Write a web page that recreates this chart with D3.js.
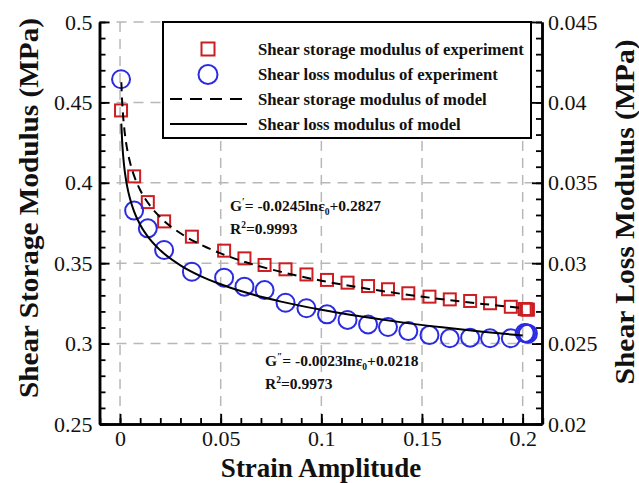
<!DOCTYPE html>
<html>
<head>
<meta charset="utf-8">
<script src="https://cdn.jsdelivr.net/npm/d3@7"></script>
<style>
  body { margin: 0; background: #fff; }
  text { font-family: "Liberation Serif", "Times New Roman", serif; fill: #111; }
</style>
</head>
<body>
<script>
// experiment points (strain amplitude, storage G' in MPa, loss G'' in MPa)
var strain  = [0.0005, 0.007, 0.0138, 0.0219, 0.0357, 0.0517, 0.0618, 0.0718, 0.0822, 0.0926, 0.1028,
               0.113, 0.1232, 0.1331, 0.1432, 0.1537, 0.1638, 0.1739, 0.1838, 0.1941, 0.201, 0.2018, 0.2026];
var storage = [0.445, 0.404, 0.388, 0.376, 0.3665, 0.3578, 0.353, 0.3489, 0.3462, 0.343, 0.3396,
               0.3379, 0.3358, 0.3338, 0.3313, 0.3292, 0.3275, 0.3265, 0.3251, 0.3229, 0.3215, 0.3213, 0.3211];
var loss    = [0.04144, 0.03327, 0.03217, 0.03082, 0.02947, 0.0291, 0.02854, 0.02833, 0.02754, 0.0272, 0.02682,
               0.02647, 0.02619, 0.02603, 0.02578, 0.02553, 0.02533, 0.02537, 0.02533, 0.02533, 0.02566, 0.02564, 0.02562];

// model curves
var modelStrain  = [0.00065, 0.001, 0.0015, 0.002, 0.003, 0.004, 0.005, 0.007, 0.01, 0.015, 0.02,
                    0.03, 0.04, 0.05, 0.06, 0.08, 0.1, 0.12, 0.14, 0.16, 0.18, 0.2];
var modelStorage = [0.4625, 0.4519, 0.442, 0.435, 0.425, 0.418, 0.4125, 0.4043, 0.3955, 0.3856, 0.3785,
                    0.3686, 0.3616, 0.3561, 0.3516, 0.3446, 0.3391, 0.3347, 0.3309, 0.3276, 0.3247, 0.3221];
var modelLoss    = [0.03868, 0.03769, 0.03676, 0.03609, 0.03516, 0.0345, 0.03399, 0.03321, 0.03239, 0.03146, 0.0308,
                    0.02987, 0.0292, 0.02869, 0.02827, 0.02761, 0.0271, 0.02668, 0.02632, 0.02601, 0.02574, 0.0255];

var xTicks = [0, 0.05, 0.1, 0.15, 0.2];
var xLabels = ["0", "0.05", "0.1", "0.15", "0.2"];
var leftTicks = [0.25, 0.3, 0.35, 0.4, 0.45, 0.5];
var leftLabels = ["0.25", "0.3", "0.35", "0.4", "0.45", "0.5"];
var rightTicks = [0.02, 0.025, 0.03, 0.035, 0.04, 0.045];
var rightLabels = ["0.02", "0.025", "0.03", "0.035", "0.04", "0.045"];
var legendLabels = ["Shear storage modulus of experiment", "Shear loss modulus of experiment",
                    "Shear storage modulus of model", "Shear loss modulus of model"];

(function() {
  var red = "#cc1e22", blue = "#2b2be3";
  var x0 = 99.5, x1 = 542, y0 = 22, y1 = 424;

  var x  = d3.scaleLinear().domain([-0.0102, 0.2096]).range([x0, x1]);
  var yL = d3.scaleLinear().domain([0.25, 0.5]).range([y1, y0]);
  var yR = d3.scaleLinear().domain([0.02, 0.045]).range([y1, y0]);

  var svg = d3.select("body").append("svg").attr("width", 639).attr("height", 483);

  // dashed grid
  var grid = svg.append("g").attr("stroke", "#b8b8b8").attr("stroke-width", 1.5).attr("stroke-dasharray", "10,7");
  grid.selectAll("line.v").data(xTicks).enter().append("line")
    .attr("x1", function(d) { return x(d); }).attr("x2", function(d) { return x(d); })
    .attr("y1", y0).attr("y2", y1);
  grid.selectAll("line.h").data(leftTicks.slice(1)).enter().append("line")
    .attr("x1", x0).attr("x2", x1)
    .attr("y1", function(d) { return yL(d); }).attr("y2", function(d) { return yL(d); });

  // axes, ticks pointing inward
  function styleAxis(g) {
    g.select(".domain").attr("stroke", "#000").attr("stroke-width", 2.5);
    g.selectAll(".tick line").attr("stroke", "#000").attr("stroke-width", 1.8);
    g.selectAll(".tick text").attr("font-size", 22).attr("font-family", null).attr("fill", "#111");
  }
  var minorX = d3.range(-0.01, 0.2101, 0.01);
  var minorY = d3.range(0.25, 0.5001, 0.01);

  svg.append("g").attr("transform", "translate(0," + y1 + ")")
    .call(d3.axisBottom(x).tickValues(minorX).tickSize(-6).tickSizeOuter(0).tickFormat(""))
    .call(styleAxis);
  svg.append("g").attr("transform", "translate(" + x0 + ",0)")
    .call(d3.axisLeft(yL).tickValues(minorY).tickSize(-6).tickSizeOuter(0).tickFormat(""))
    .call(styleAxis);
  svg.append("g").attr("transform", "translate(" + x1 + ",0)")
    .call(d3.axisRight(yL).tickValues(minorY).tickSize(-6).tickSizeOuter(0).tickFormat(""))
    .call(styleAxis);

  svg.append("g").attr("transform", "translate(0," + y1 + ")")
    .call(d3.axisBottom(x).tickValues(xTicks).tickSize(-10).tickSizeOuter(0).tickPadding(6)
      .tickFormat(function(d, i) { return xLabels[i]; }))
    .call(styleAxis);
  svg.append("g").attr("transform", "translate(" + x0 + ",0)")
    .call(d3.axisLeft(yL).tickValues(leftTicks).tickSize(-10).tickSizeOuter(0).tickPadding(7)
      .tickFormat(function(d, i) { return leftLabels[i]; }))
    .call(styleAxis);
  svg.append("g").attr("transform", "translate(" + x1 + ",0)")
    .call(d3.axisRight(yR).tickValues(rightTicks).tickSize(-10).tickSizeOuter(0).tickPadding(6)
      .tickFormat(function(d, i) { return rightLabels[i]; }))
    .call(styleAxis);

  // experiment markers
  var pts = d3.range(strain.length);
  svg.append("g").selectAll("rect").data(pts).enter().append("rect")
    .attr("x", function(i) { return x(strain[i]) - 6; })
    .attr("y", function(i) { return yL(storage[i]) - 6; })
    .attr("width", 12).attr("height", 12)
    .attr("fill", "none").attr("stroke", red).attr("stroke-width", 2);
  svg.append("g").selectAll("circle").data(pts).enter().append("circle")
    .attr("cx", function(i) { return x(strain[i]); })
    .attr("cy", function(i) { return yR(loss[i]); })
    .attr("r", 9)
    .attr("fill", "none").attr("stroke", blue).attr("stroke-width", 2);

  // model lines
  var mIdx = d3.range(modelStrain.length);
  var storageLine = d3.line().curve(d3.curveMonotoneX)
    .x(function(i) { return x(modelStrain[i]); }).y(function(i) { return yL(modelStorage[i]); });
  var lossLine = d3.line().curve(d3.curveMonotoneX)
    .x(function(i) { return x(modelStrain[i]); }).y(function(i) { return yR(modelLoss[i]); });
  svg.append("path").datum(mIdx).attr("d", storageLine)
    .attr("fill", "none").attr("stroke", "#000").attr("stroke-width", 2).attr("stroke-dasharray", "9,6");
  svg.append("path").datum(mIdx).attr("d", lossLine)
    .attr("fill", "none").attr("stroke", "#000").attr("stroke-width", 2);

  // legend
  var lg = svg.append("g");
  lg.append("rect").attr("x", 163).attr("y", y0).attr("width", 368).attr("height", 116)
    .attr("fill", "#fff").attr("stroke", "#000").attr("stroke-width", 2);
  var rows = [49, 74.5, 99, 124];
  lg.append("rect").attr("x", 201.5).attr("y", rows[0] - 6.5).attr("width", 13).attr("height", 13)
    .attr("fill", "none").attr("stroke", red).attr("stroke-width", 2);
  lg.append("circle").attr("cx", 208).attr("cy", rows[1]).attr("r", 9.5)
    .attr("fill", "none").attr("stroke", blue).attr("stroke-width", 2);
  lg.append("line").attr("x1", 170).attr("x2", 247).attr("y1", rows[2]).attr("y2", rows[2])
    .attr("stroke", "#000").attr("stroke-width", 2).attr("stroke-dasharray", "12,8");
  lg.append("line").attr("x1", 170).attr("x2", 247).attr("y1", rows[3]).attr("y2", rows[3])
    .attr("stroke", "#000").attr("stroke-width", 2);
  lg.selectAll("text").data(legendLabels).enter().append("text")
    .attr("x", 258).attr("y", function(d, i) { return rows[i] + 5.5; })
    .attr("font-size", 16.7).attr("font-weight", "bold")
    .text(function(d) { return d; });

  // fit equations
  function equation(px, py, primes, body, tail, r2) {
    var t = svg.append("text").attr("x", px).attr("y", py).attr("font-size", 15.5).attr("font-weight", "bold");
    t.append("tspan").text("G");
    t.append("tspan").attr("dy", -6).attr("font-size", 9.5).text(primes);
    t.append("tspan").attr("dy", 6).text("= " + body + "ln\u03b5");
    t.append("tspan").attr("dy", 4).attr("font-size", 9.5).text("0");
    t.append("tspan").attr("dy", -4).text(tail);
    var r = svg.append("text").attr("x", px).attr("y", py + 23).attr("font-size", 15.5).attr("font-weight", "bold");
    r.append("tspan").text("R");
    r.append("tspan").attr("dy", -6).attr("font-size", 9.5).text("2");
    r.append("tspan").attr("dy", 6).text("=" + r2);
  }
  equation(230, 211, "\u2032", "-0.0245", "+0.2827", "0.9993");
  equation(265, 366, "\u2033", "-0.0023", "+0.0218", "0.9973");

  // axis titles
  svg.append("text").attr("transform", "translate(321,477)").attr("text-anchor", "middle")
    .attr("font-size", 27).attr("font-weight", "bold").text("Strain Amplitude");
  svg.append("text").attr("transform", "translate(38,208) rotate(-90)").attr("text-anchor", "middle")
    .attr("font-size", 28).attr("font-weight", "bold")
    .attr("textLength", 380).attr("lengthAdjust", "spacingAndGlyphs")
    .text("Shear Storage Modulus (MPa)");
  svg.append("text").attr("transform", "translate(634,212) rotate(-90)").attr("text-anchor", "middle")
    .attr("font-size", 28).attr("font-weight", "bold")
    .attr("textLength", 345).attr("lengthAdjust", "spacingAndGlyphs")
    .text("Shear Loss Modulus (MPa)");
})();
</script>
</body>
</html>
